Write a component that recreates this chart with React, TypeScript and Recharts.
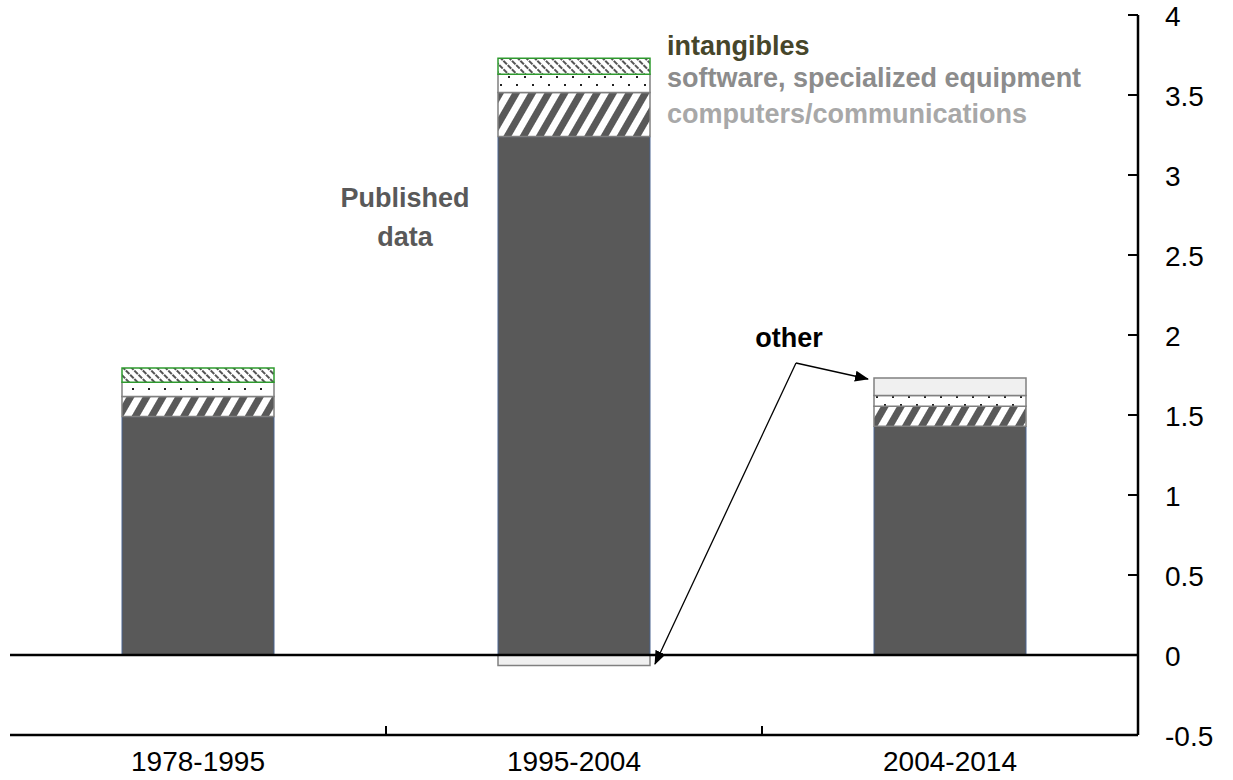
import React from 'react';
import { BarChart, Bar, XAxis, YAxis, ReferenceLine } from 'recharts';

const periods = ['1978-1995', '1995-2004', '2004-2014'];
const published = [1.49, 3.24, 1.43];
const computers = [0.125, 0.275, 0.125];
const software = [0.09, 0.115, 0.067];
const intangibles = [0.088, 0.1, 0];
const other = [0, -0.065, 0.11];
const yTicks = [-0.5, 0, 0.5, 1, 1.5, 2, 2.5, 3, 3.5, 4];

const data = periods.map((period, i) => ({
  period,
  published: published[i],
  computers: computers[i],
  software: software[i],
  intangibles: intangibles[i],
  other: other[i],
}));

const W = 1233;
const H = 780;
const M = { top: 15, right: 0, bottom: 0, left: 10 };
const Y_AXIS_W = 95;
const X_AXIS_H = 45;
const PLOT_W = W - M.left - M.right - Y_AXIS_W;
const PLOT_BOTTOM = H - M.bottom - X_AXIS_H;
const HALF_BAND = PLOT_W / periods.length / 2;
const FONT = '"Liberation Sans", Arial, sans-serif';

const YTick = (props: any) => {
  const { x, y, payload } = props;
  return (
    <g>
      <line x1={x - 10} x2={x} y1={y} y2={y} stroke="#000" strokeWidth={2} />
      <text x={x + 27} y={y} dy={10.5} fontSize={28} fontFamily={FONT} fill="#000">
        {payload.value}
      </text>
    </g>
  );
};

const XTick = (props: any) => {
  const { x, payload, index } = props;
  return (
    <g>
      {index < periods.length - 1 && (
        <line x1={x + HALF_BAND} x2={x + HALF_BAND} y1={PLOT_BOTTOM} y2={PLOT_BOTTOM - 9} stroke="#000" strokeWidth={2} />
      )}
      <text x={x} y={PLOT_BOTTOM + 36} textAnchor="middle" fontSize={28} fontFamily={FONT} fill="#000">
        {payload.value}
      </text>
    </g>
  );
};

export default function App() {
  return (
    <div style={{ position: 'absolute', left: 0, top: 0, width: W, height: H, background: '#fff' }}>
      <svg width={0} height={0} style={{ position: 'absolute' }}>
        <defs>
          <pattern id="hatch" patternUnits="userSpaceOnUse" width={14} height={14} patternTransform="rotate(30)">
            <rect width={14} height={14} fill="#fff" />
            <rect width={7} height={14} fill="#595959" />
          </pattern>
          <pattern id="dots" patternUnits="userSpaceOnUse" width={16} height={16}>
            <rect width={16} height={16} fill="#fff" />
            <rect x={4} y={4} width={2} height={2} fill="#222" />
            <rect x={12} y={12} width={2} height={2} fill="#222" />
          </pattern>
          <pattern id="fine" patternUnits="userSpaceOnUse" width={6} height={6} patternTransform="rotate(-45)">
            <rect width={6} height={6} fill="#fff" />
            <rect width={2} height={6} fill="#555" />
            <rect x={0} y={2} width={2} height={1} fill="#fff" />
          </pattern>
        </defs>
      </svg>
      <BarChart
        width={W}
        height={H}
        data={data}
        margin={M}
        stackOffset="sign"
        barSize={152}
      >
        <XAxis
          dataKey="period"
          height={X_AXIS_H}
          axisLine={{ stroke: '#000', strokeWidth: 2.5 }}
          tickLine={false}
          tickSize={0}
          tick={<XTick />}
          interval={0}
        />
        <XAxis
          xAxisId="top"
          dataKey="period"
          orientation="top"
          height={0}
          axisLine={{ stroke: '#000', strokeWidth: 2.5 }}
          tick={false}
          tickLine={false}
        />
        <YAxis
          yAxisId="val"
          orientation="right"
          width={Y_AXIS_W}
          domain={[-0.5, 4]}
          ticks={yTicks}
          allowDataOverflow
          axisLine={{ stroke: '#000', strokeWidth: 2.5 }}
          tickLine={false}
          tickSize={0}
          tickMargin={0}
          tick={<YTick />}
          interval={0}
        />
        <YAxis
          yAxisId="frame"
          orientation="left"
          width={0}
          domain={[-0.5, 4]}
          axisLine={{ stroke: '#000', strokeWidth: 2.5 }}
          tick={false}
          tickLine={false}
        />
        <Bar yAxisId="val" dataKey="published" stackId="s" fill="#595959" stroke="#4a6590" strokeWidth={1} isAnimationActive={false} />
        <Bar yAxisId="val" dataKey="computers" stackId="s" fill="url(#hatch)" stroke="#808080" strokeWidth={1.5} isAnimationActive={false} />
        <Bar yAxisId="val" dataKey="software" stackId="s" fill="url(#dots)" stroke="#808080" strokeWidth={1.5} isAnimationActive={false} />
        <Bar yAxisId="val" dataKey="intangibles" stackId="s" fill="url(#fine)" stroke="#2e9a2e" strokeWidth={1.5} isAnimationActive={false} />
        <Bar yAxisId="val" dataKey="other" stackId="s" fill="#f0f0f0" stroke="#808080" strokeWidth={1.5} isAnimationActive={false} />
        <ReferenceLine yAxisId="val" y={0} stroke="#000" strokeWidth={2.5} />
      </BarChart>
      <svg width={W} height={H} style={{ position: 'absolute', left: 0, top: 0, pointerEvents: 'none' }}>
        <defs>
          <marker id="arrow" markerWidth={14} markerHeight={11} refX={13} refY={5.5} orient="auto" markerUnits="userSpaceOnUse">
            <path d="M0,0 L14,5.5 L0,11 z" fill="#000" />
          </marker>
        </defs>
        <g fontFamily={FONT} fontWeight="bold" fontSize={27}>
          <text x={405} y={207} textAnchor="middle" fill="#595959">Published</text>
          <text x={405} y={246} textAnchor="middle" fill="#595959">data</text>
          <text x={667} y={55} fill="#46462a">intangibles</text>
          <text x={667} y={87} fill="#8c8c8c">software, specialized equipment</text>
          <text x={667} y={123} fill="#a8a8a8">computers/communications</text>
          <text x={789} y={347} textAnchor="middle" fill="#000">other</text>
        </g>
        <line x1={796} y1={363} x2={868} y2={379} stroke="#000" strokeWidth={1.3} markerEnd="url(#arrow)" />
        <line x1={796} y1={363} x2={655} y2={664} stroke="#000" strokeWidth={1.3} markerEnd="url(#arrow)" />
      </svg>
    </div>
  );
}
